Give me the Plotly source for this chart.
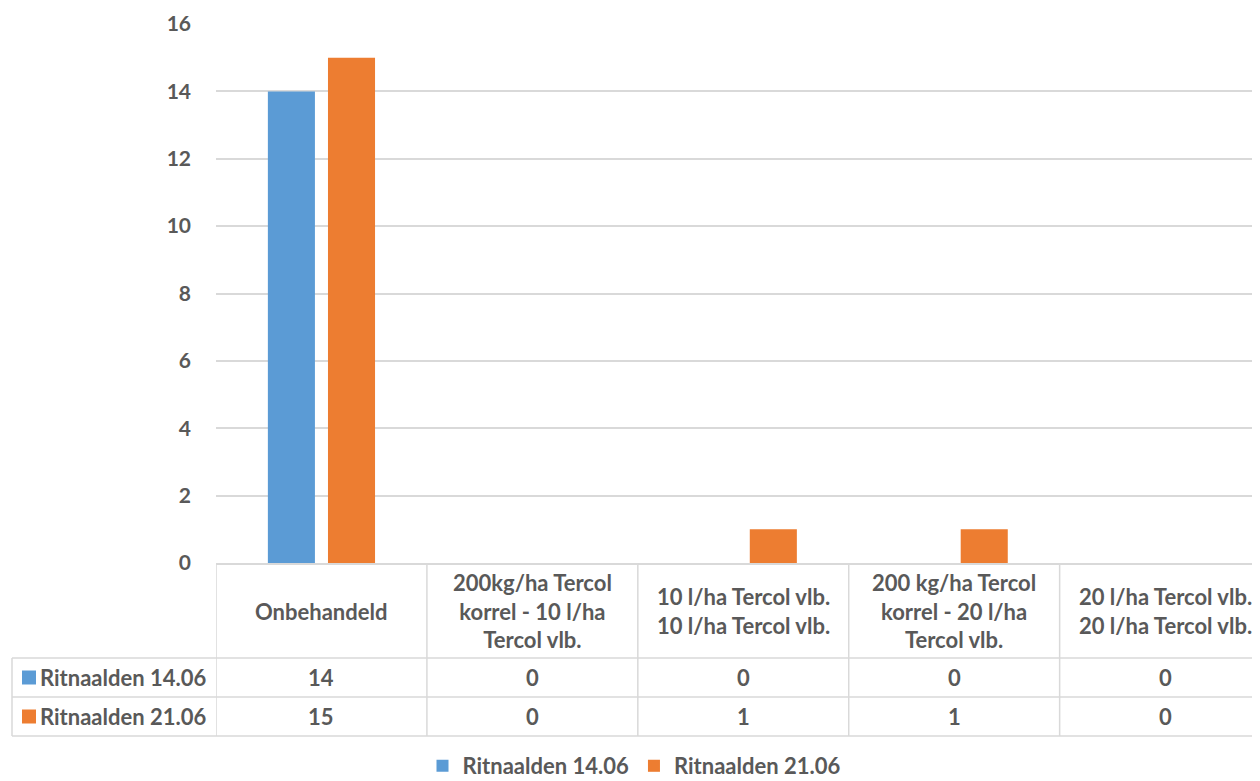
import plotly.graph_objects as go

categories = ["Onbehandeld",
              "200kg/ha Tercol korrel - 10 l/ha Tercol vlb.",
              "10 l/ha Tercol vlb. 10 l/ha Tercol vlb.",
              "200 kg/ha Tercol korrel - 20 l/ha Tercol vlb.",
              "20 l/ha Tercol vlb. 20 l/ha Tercol vlb."]
cat_labels = ["Onbehandeld",
              "200kg/ha Tercol<br>korrel - 10 l/ha<br>Tercol vlb.",
              "10 l/ha Tercol vlb.<br>10 l/ha Tercol vlb.",
              "200 kg/ha Tercol<br>korrel - 20 l/ha<br>Tercol vlb.",
              "20 l/ha Tercol vlb.<br>20 l/ha Tercol vlb."]
series_names = ["Ritnaalden 14.06", "Ritnaalden 21.06"]
values_1406 = [14, 0, 0, 0, 0]
values_2106 = [15, 0, 1, 1, 0]
y_ticks = [0, 2, 4, 6, 8, 10, 12, 14, 16]

colors = ["#5B9BD5", "#ED7D31"]
TXT = "#595959"
GRID = "#D9D9D9"
FONT = "Lato"
FS = 22

OFF = 8  # page body margin
W, H = 1260 - OFF, 781 - OFF
L, T, B = 216 - OFF, 24 - OFF, 563 - OFF  # plot left, top px, bottom px (figure coords)
PH = B - T


def py(Y):  # Y in screen px
    return (B - (Y - OFF)) / PH


def px(X):
    return ((X - OFF) - L) / (W - L)


fig = go.Figure()
for name, vals, c in zip(series_names, [values_1406, values_2106], colors):
    fig.add_trace(go.Bar(x=categories, y=vals, name=name, marker_color=c,
                         marker_line_width=0, hoverinfo="skip"))

shapes = []
ann = []
n = len(categories)
for Y in [658, 697, 736]:
    shapes.append(dict(type="line", xref="paper", yref="paper", x0=px(12), x1=1.0,
                       y0=py(Y), y1=py(Y), line=dict(color=GRID, width=1.5)))
shapes.append(dict(type="line", xref="paper", yref="paper", x0=px(12), x1=px(12),
                   y0=py(658), y1=py(736), line=dict(color=GRID, width=1.5)))
for i in range(n):
    shapes.append(dict(type="line", xref="x", yref="paper", x0=i - 0.5, x1=i - 0.5,
                       y0=0, y1=py(736), line=dict(color=GRID, width=1.5)))

for c, lab in zip(categories, cat_labels):
    ann.append(dict(x=c, xref="x", y=py(611), yref="paper", text=lab, showarrow=False,
                    font=dict(family=FONT, size=FS, color=TXT, weight="bold"),
                    xanchor="center", yanchor="middle"))
for vals, Y in [(values_1406, 677.5), (values_2106, 716.5)]:
    for c, v in zip(categories, vals):
        ann.append(dict(x=c, xref="x", y=py(Y), yref="paper", text=str(v), showarrow=False,
                        font=dict(family=FONT, size=FS, color=TXT, weight="bold"),
                        xanchor="center", yanchor="middle"))
for name, col, Y in [(series_names[0], colors[0], 677.5), (series_names[1], colors[1], 716.5)]:
    shapes.append(dict(type="rect", xref="paper", yref="paper", x0=px(22), x1=px(36),
                       y0=py(Y + 7), y1=py(Y - 7), fillcolor=col, line=dict(width=0)))
    ann.append(dict(x=px(38), xref="paper", y=py(Y), yref="paper",
                    text=name, showarrow=False,
                    font=dict(family=FONT, size=FS, color=TXT, weight="bold"),
                    xanchor="left", yanchor="middle"))

fig.update_layout(
    width=W, height=H,
    margin=dict(l=L, r=0, t=T, b=H - B, autoexpand=False),
    plot_bgcolor="white", paper_bgcolor="white",
    barmode="group", bargap=0.43, bargroupgap=0.217,
    font=dict(family=FONT, size=FS, color=TXT, weight="bold"),
    shapes=shapes, annotations=ann,
    showlegend=True,
    legend=dict(orientation="h", xref="container", yref="paper", x=0.5, y=py(766),
                xanchor="center", yanchor="middle", itemwidth=30,
                font=dict(family=FONT, size=FS, color=TXT, weight="bold"),
                itemclick=False, itemdoubleclick=False),
)
fig.update_xaxes(range=[-0.5, n - 0.55], showticklabels=False, ticks="",
                 showline=True, linecolor=GRID, linewidth=1.5, showgrid=False)
fig.update_yaxes(range=[0, 16], tickvals=y_ticks, showgrid=True, gridcolor=GRID, gridwidth=1.5,
                 zeroline=False, showline=False, ticks="", ticklabelstandoff=24,
                 tickfont=dict(family=FONT, size=FS - 1, color=TXT, weight="bold"))

fig.write_html("out.html")
